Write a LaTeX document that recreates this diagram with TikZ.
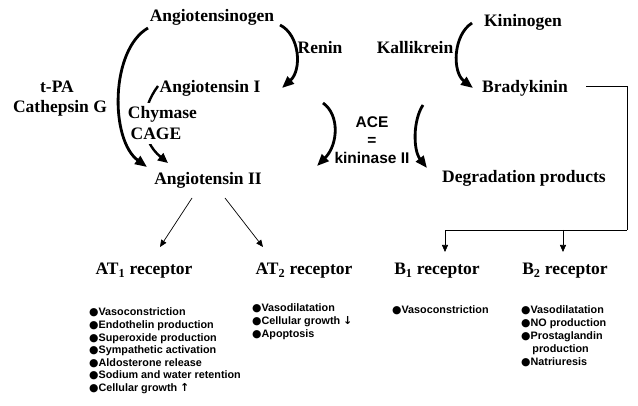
\documentclass[tikz,border=0pt]{standalone}
\usepackage{fontspec}
\setmainfont{Liberation Serif}
\setsansfont{Liberation Sans}
\newfontfamily\symfont{DejaVu Sans}
\usetikzlibrary{arrows.meta}
\newcommand{\bul}{{\symfont ●}}
\newcommand{\uparr}{{\symfont\fontsize{11}{12}\selectfont ↑}}
\newcommand{\downarr}{{\symfont\fontsize{11}{12}\selectfont ↓}}
\tikzset{
  lbl/.style={font=\fontsize{17.5}{20}\selectfont\bfseries, inner sep=2pt, anchor=base},
  wlbl/.style={lbl, fill=white, inner xsep=3pt, inner ysep=4pt},
  acetxt/.style={font=\sffamily\bfseries\fontsize{15.5}{18}\selectfont, align=center, inner sep=1pt},
  item/.style={font=\sffamily\bfseries\fontsize{10.8}{12.7}\selectfont, inner sep=0pt, anchor=base west},
  bigarrow/.style={line width=2.8pt, -{Triangle[length=12pt,width=9.5pt]}},
  medarrow/.style={line width=2.4pt, -{Triangle[length=10pt,width=9pt]}},
  thinarrow/.style={line width=0.7pt, -{Triangle[length=7pt,width=6pt]}},
  thinline/.style={line width=0.7pt},
}
\begin{document}
\begin{tikzpicture}[x=1pt,y=-1pt]
\fill[white] (0,0) rectangle (638,406);
\useasboundingbox (0,0) rectangle (638,406);

% main labels
\node[lbl] (angen) at (212,22) {Angiotensinogen};
\node[lbl] (renin) at (320,54) {Renin};
\node[lbl] (kall)  at (415,54) {Kallikrein};
\node[lbl] (kinin) at (523,26.5) {Kininogen};
\node[lbl] (bk)    at (525,93) {Bradykinin};
\node[lbl] (angI)  at (210,93) {Angiotensin I};
\node[lbl] (tpa)   at (57,93) {t-PA};
\node[lbl] (cath)  at (60,113) {Cathepsin G};
\node[lbl] (angII) at (208,185) {Angiotensin II};
\node[lbl] (deg)   at (524,183) {Degradation products};
\node[acetxt] (ace) at (372,140) {ACE\\=\\kininase II};

% receptors
\node[lbl] (at1) at (144,275) {AT\textsubscript{1} receptor};
\node[lbl] (at2) at (304,275) {AT\textsubscript{2} receptor};
\node[lbl] (b1)  at (437,275) {B\textsubscript{1} receptor};
\node[lbl] (b2)  at (565,275) {B\textsubscript{2} receptor};

% connector endpoints
\coordinate (s1) at (148,28);  \coordinate (e1) at (147,167);
\coordinate (s2) at (280,25);  \coordinate (e2) at (282,88);
\coordinate (s3) at (472,23);  \coordinate (e3) at (473,88);
\coordinate (s4) at (323,103); \coordinate (e4) at (317,166);
\coordinate (s5) at (423,105); \coordinate (e5) at (427,168);
\coordinate (s6) at (158,86);  \coordinate (e6) at (168,163);
\coordinate (s7) at (192,198); \coordinate (e7) at (160,247);
\coordinate (s8) at (225,198); \coordinate (e8) at (263,247);
\coordinate (bend) at (627,230);
\coordinate (t1) at (445,252);
\coordinate (j2) at (563,230); \coordinate (t2) at (563,252);

% curved enzyme arrows
\draw[bigarrow] (s1) .. controls (110,50) and (110,140) .. (e1);
\draw[bigarrow] (s2) .. controls (300,35) and (302,70) .. (e2);
\draw[bigarrow] (s3) .. controls (453,35) and (452,72) .. (e3);
\draw[bigarrow] (s4) .. controls (340,115) and (338,145) .. (e4);
\draw[bigarrow] (s5) .. controls (413,120) and (413,150) .. (e5);
\draw[medarrow] (s6) .. controls (140,110) and (140,140) .. (e6);

% labels covering the chymase arrow
\node[wlbl] (chym) at (162.5,119) {Chymase};
\node[wlbl] (cage) at (156,140) {CAGE};

% receptor arrows
\draw[thinarrow] (s7) -- (e7);
\draw[thinarrow] (s8) -- (e8);
\draw[thinline] ([xshift=16pt]bk.east |- 0,86) -| (bend);
\draw[thinarrow] (bend) -| (t1);
\draw[thinarrow] (j2) -- (t2);

% lists
\foreach \t [count=\i from 0] in {Vasoconstriction, Endothelin production, Superoxide production, Sympathetic activation, Aldosterone release, Sodium and water retention, Cellular growth \uparr}
  \node[item] (la\i) at (89,316+12.6*\i) {\bul\t};
\foreach \t [count=\i from 0] in {Vasodilatation, Cellular growth \downarr, Apoptosis}
  \node[item] (lb\i) at (252,312+12.8*\i) {\bul\t};
\node[item] (lc0) at (392,314) {\bul Vasoconstriction};
\foreach \t [count=\i from 0] in {\bul Vasodilatation, \bul NO production, \bul Prostaglandin, {\hphantom{\bul}\,production}, \bul Natriuresis}
  \node[item] (ld\i) at (521,314+12.8*\i) {\t};
\end{tikzpicture}
\end{document}
